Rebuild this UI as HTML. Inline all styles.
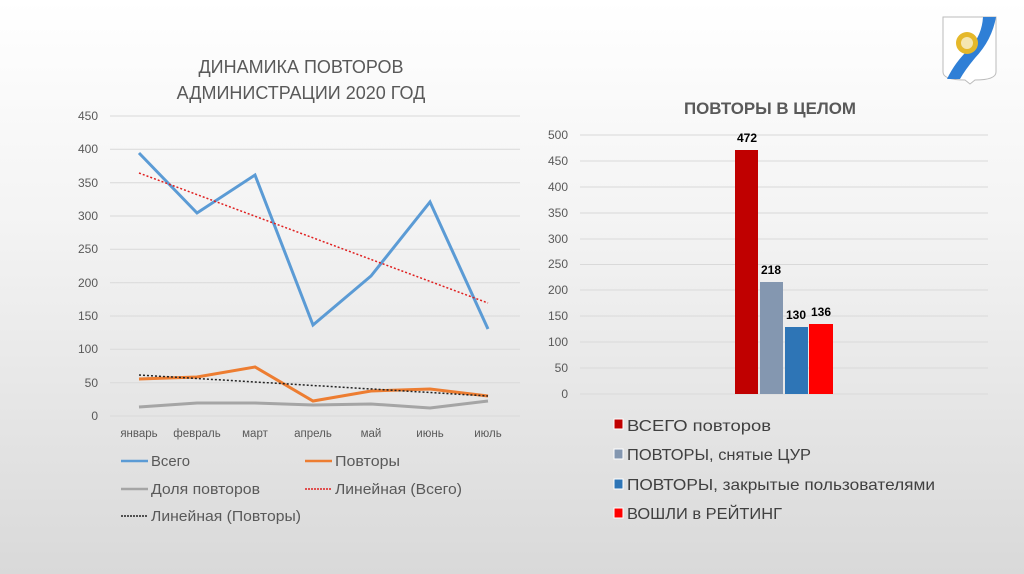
<!DOCTYPE html>
<html><head><meta charset="utf-8"><style>
html,body{margin:0;padding:0;width:1024px;height:574px;overflow:hidden}
body{background:linear-gradient(#ffffff 0%,#f3f3f3 40%,#d9d9d9 100%)}
svg{display:block}
</style></head><body>
<svg width="1024" height="574" xmlns="http://www.w3.org/2000/svg" font-family="Liberation Sans, sans-serif">
<g>
<path d="M943 17 H996 V72 Q996 80 975 80 L970 84 L965 80 Q943 80 943 72 Z" fill="#fff" stroke="#bbb" stroke-width="1"/>
<path d="M983 17 H996 Q992 40 975 58 Q965 70 960 79 L947 79 Q955 62 970 48 Q982 35 983 17 Z" fill="#2f7fd6"/>
<circle cx="967" cy="43" r="11" fill="#e5b82a"/>
<circle cx="967" cy="43" r="6" fill="#f5e6b0"/>
</g>
<g fill="#595959" font-size="18" text-anchor="middle">
<text x="301" y="73">ДИНАМИКА ПОВТОРОВ</text>
<text x="301" y="99">АДМИНИСТРАЦИИ 2020 ГОД</text>
</g>
<g stroke="#d9d9d9" stroke-width="1">
<line x1="110" x2="520" y1="116" y2="116"/><line x1="110" x2="520" y1="149.3" y2="149.3"/>
<line x1="110" x2="520" y1="182.7" y2="182.7"/><line x1="110" x2="520" y1="216" y2="216"/>
<line x1="110" x2="520" y1="249.3" y2="249.3"/><line x1="110" x2="520" y1="282.7" y2="282.7"/>
<line x1="110" x2="520" y1="316" y2="316"/><line x1="110" x2="520" y1="349.3" y2="349.3"/>
<line x1="110" x2="520" y1="382.7" y2="382.7"/><line x1="110" x2="520" y1="416" y2="416"/>
</g>
<g fill="#595959" font-size="12" text-anchor="end">
<text x="98" y="120">450</text><text x="98" y="153">400</text><text x="98" y="187">350</text>
<text x="98" y="220">300</text><text x="98" y="253">250</text><text x="98" y="287">200</text>
<text x="98" y="320">150</text><text x="98" y="353">100</text><text x="98" y="387">50</text>
<text x="98" y="420">0</text>
</g>
<g fill="#595959" font-size="11.5" text-anchor="middle">
<text x="139" y="437">январь</text><text x="197" y="437">февраль</text><text x="255" y="437">март</text>
<text x="313" y="437">апрель</text><text x="371" y="437">май</text><text x="430" y="437">июнь</text>
<text x="488" y="437">июль</text>
</g>
<polyline fill="none" stroke="#a5a5a5" stroke-width="3" points="139,407 197,403 255,403 313,405 371,404 430,408 488,401"/>
<polyline fill="none" stroke="#ed7d31" stroke-width="3" points="139,379 197,377 255,367 313,401 371,391 430,389 488,396"/>
<polyline fill="none" stroke="#5b9bd5" stroke-width="3" points="139,153 197,213 255,175 313,325 371,276 430,202 488,329"/>
<line x1="139" y1="173" x2="488" y2="303" stroke="#e02020" stroke-width="1.5" stroke-dasharray="2,2"/>
<line x1="139" y1="375" x2="488" y2="396" stroke="#222" stroke-width="1.5" stroke-dasharray="2,2"/>
<g font-size="15" fill="#595959">
<line x1="121" x2="148" y1="461" y2="461" stroke="#5b9bd5" stroke-width="2.5"/>
<text x="151" y="466" textLength="39" lengthAdjust="spacingAndGlyphs">Всего</text>
<line x1="305" x2="332" y1="461" y2="461" stroke="#ed7d31" stroke-width="2.5"/>
<text x="335" y="466" textLength="65" lengthAdjust="spacingAndGlyphs">Повторы</text>
<line x1="121" x2="148" y1="489" y2="489" stroke="#a5a5a5" stroke-width="2.5"/>
<text x="151" y="494" textLength="109" lengthAdjust="spacingAndGlyphs">Доля повторов</text>
<line x1="305" x2="332" y1="489" y2="489" stroke="#e02020" stroke-width="1.5" stroke-dasharray="2,1"/>
<text x="335" y="494" textLength="127" lengthAdjust="spacingAndGlyphs">Линейная (Всего)</text>
<line x1="121" x2="148" y1="516" y2="516" stroke="#222" stroke-width="1.5" stroke-dasharray="2,1"/>
<text x="151" y="521" textLength="150" lengthAdjust="spacingAndGlyphs">Линейная (Повторы)</text>
</g>
<text x="770" y="114" font-size="17" font-weight="bold" fill="#595959" text-anchor="middle" textLength="172" lengthAdjust="spacingAndGlyphs">ПОВТОРЫ В ЦЕЛОМ</text>
<g stroke="#d9d9d9" stroke-width="1">
<line x1="580" x2="988" y1="135" y2="135"/><line x1="580" x2="988" y1="161" y2="161"/>
<line x1="580" x2="988" y1="187" y2="187"/><line x1="580" x2="988" y1="213" y2="213"/>
<line x1="580" x2="988" y1="239" y2="239"/><line x1="580" x2="988" y1="264.5" y2="264.5"/>
<line x1="580" x2="988" y1="290" y2="290"/><line x1="580" x2="988" y1="316" y2="316"/>
<line x1="580" x2="988" y1="342" y2="342"/><line x1="580" x2="988" y1="368" y2="368"/>
<line x1="580" x2="988" y1="394" y2="394"/>
</g>
<g fill="#595959" font-size="12" text-anchor="end">
<text x="568" y="139">500</text><text x="568" y="165">450</text><text x="568" y="191">400</text>
<text x="568" y="217">350</text><text x="568" y="243">300</text><text x="568" y="268">250</text>
<text x="568" y="294">200</text><text x="568" y="320">150</text><text x="568" y="346">100</text>
<text x="568" y="372">50</text><text x="568" y="398">0</text>
</g>
<rect x="735" y="150" width="23" height="244" fill="#c00000"/>
<rect x="760" y="282" width="23" height="112" fill="#8497b0"/>
<rect x="785" y="327" width="23" height="67" fill="#2e75b6"/>
<rect x="809" y="324" width="24" height="70" fill="#ff0000"/>
<g font-size="12" font-weight="bold" fill="#000" text-anchor="middle">
<text x="747" y="142">472</text><text x="771" y="274">218</text>
<text x="796" y="319">130</text><text x="821" y="316">136</text>
</g>
<g font-size="16" fill="#404040">
<rect x="614" y="419" width="9" height="10" fill="#c00000" stroke="#fff"/>
<text x="627" y="431" textLength="144" lengthAdjust="spacingAndGlyphs">ВСЕГО повторов</text>
<rect x="614" y="449" width="9" height="10" fill="#8497b0" stroke="#fff"/>
<text x="627" y="460" textLength="184" lengthAdjust="spacingAndGlyphs">ПОВТОРЫ, снятые ЦУР</text>
<rect x="614" y="479" width="9" height="10" fill="#2e75b6" stroke="#fff"/>
<text x="627" y="490" textLength="308" lengthAdjust="spacingAndGlyphs">ПОВТОРЫ, закрытые пользователями</text>
<rect x="614" y="508" width="9" height="10" fill="#ff0000" stroke="#fff"/>
<text x="627" y="519" textLength="155" lengthAdjust="spacingAndGlyphs">ВОШЛИ в РЕЙТИНГ</text>
</g>
</svg>
</body></html>
